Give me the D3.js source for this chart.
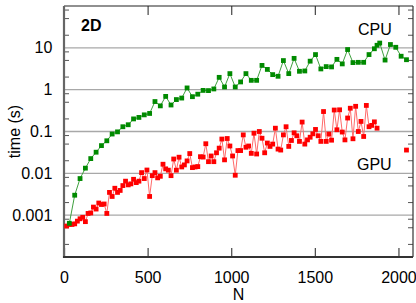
<!DOCTYPE html>
<html>
<head>
<meta charset="utf-8">
<script src="https://cdn.jsdelivr.net/npm/d3@7"></script>
<style>
  body { margin: 0; background: #fff; }
  text { font-family: "Liberation Sans", Arial, sans-serif; }
</style>
</head>
<body>
<svg id="chart" width="416" height="303"></svg>
<script>
// CPU timings (green), N step 32
var cpuN = [32,64,96,128,160,192,224,256,288,320,352,384,416,448,480,512,544,576,608,640,
  672,704,736,768,800,832,864,896,928,960,992,1024,1056,1088,1120,1152,1184,1216,1248,1280,
  1312,1344,1376,1408,1440,1472,1504,1536,1568,1600,1632,1664,1696,1728,1760,1792,1824,1856,1872,1888,
  1920,1952,1984,2016,2048];
var cpuT = [0.00064,0.0030,0.0075,0.0133,0.0225,0.032,0.046,0.060,0.087,0.098,0.13,0.145,0.20,0.217,0.25,0.27,0.52,0.41,0.69,0.43,
  0.58,0.63,1.1,0.68,0.78,0.96,0.95,1.04,1.97,1.16,2.42,1.16,1.53,2.42,1.67,1.67,3.8,3.05,2.29,2.09,
  4.96,2.42,5.6,2.75,2.8,4.8,6.9,3.13,3.56,3.5,5.3,4.13,9.1,4.44,4.5,4.5,6.9,9.5,11.5,13,
  5.1,12,10.3,6.3,5.2];

// GPU timings (red), N step 16
var gpuN = [16,32,48,64,80,96,112,128,144,160,176,192,208,224,240,256,272,288,304,320,
  336,352,368,384,400,416,432,448,464,480,496,512,528,544,560,576,592,608,624,640,
  656,672,688,704,720,736,752,768,784,800,816,832,848,864,880,896,912,928,944,960,
  976,992,1008,1024,1040,1056,1072,1088,1104,1120,1136,1152,1168,1184,1200,1216,1232,1248,1264,1280,
  1296,1312,1328,1344,1360,1376,1392,1408,1424,1440,1456,1472,1488,1504,1520,1536,1552,1568,1584,1600,
  1616,1632,1648,1664,1680,1696,1712,1728,1744,1760,1776,1792,1808,1824,1840,1856,1872,2048];
var gpuT = [0.00055,0.0006,0.0006,0.00062,0.00072,0.00082,0.00089,0.0007,0.0011,0.00113,0.00156,0.0014,0.00195,0.0018,0.00185,0.0011,0.0035,0.0028,0.0044,0.0035,
  0.0039,0.0051,0.0065,0.0053,0.0056,0.0072,0.006,0.0065,0.0104,0.0075,0.012,0.0028,0.0088,0.0104,0.0078,0.0085,0.0165,0.0128,0.0119,0.0088,
  0.022,0.0119,0.0243,0.0142,0.0159,0.0198,0.0297,0.0137,0.0142,0.0145,0.025,0.0245,0.051,0.019,0.026,0.019,0.031,0.04,0.066,0.021,
  0.068,0.045,0.026,0.009,0.035,0.035,0.083,0.042,0.045,0.03,0.091,0.029,0.1,0.069,0.031,0.053,0.044,0.05,0.12,0.038,
  0.036,0.083,0.13,0.044,0.061,0.093,0.079,0.058,0.168,0.05,0.063,0.073,0.088,0.112,0.079,0.058,0.30,0.058,0.087,0.062,
  0.326,0.11,0.33,0.097,0.063,0.21,0.36,0.067,0.40,0.1,0.174,0.076,0.42,0.13,0.14,0.17,0.12,0.036];

var xTicks = [0, 500, 1000, 1500, 2000];
var yDecades = [0.001, 0.01, 0.1, 1, 10];
var yLabels = ["0.001", "0.01", "0.1", "1", "10"];
var minorMult = [2, 5, 8];

var svg = d3.select('#chart');
var pLeft = 64, pRight = 413, pTop = 6, pBottom = 257;

var x = d3.scaleLinear().domain([0, 2087]).range([pLeft, pRight]);
var y = d3.scaleLog().domain([1e-4, 1e2]).range([pBottom, pTop]);

// gridlines
svg.append('g').selectAll('line').data(yDecades).enter().append('line')
  .attr('x1', pLeft).attr('x2', pRight)
  .attr('y1', function(d){ return y(d); }).attr('y2', function(d){ return y(d); })
  .attr('stroke', '#a8a8a8').attr('stroke-width', 1.4);

// minor ticks on both sides
var minors = [];
[1e-4, 1e-3, 1e-2, 1e-1, 1, 10].forEach(function(dec){
  minorMult.forEach(function(m){ minors.push(dec * m); });
});
var mt = svg.append('g');
minors.forEach(function(v){
  mt.append('line').attr('x1', pLeft).attr('x2', pLeft + 5)
    .attr('y1', y(v)).attr('y2', y(v)).attr('stroke', '#555').attr('stroke-width', 1);
  mt.append('line').attr('x1', pRight - 5).attr('x2', pRight)
    .attr('y1', y(v)).attr('y2', y(v)).attr('stroke', '#555').attr('stroke-width', 1);
});

// x axes (ticks inward)
var xb = svg.append('g').attr('transform', 'translate(0,' + pBottom + ')')
  .call(d3.axisBottom(x).tickValues(xTicks).tickSize(-9).tickPadding(14.5).tickFormat(d3.format('d')));
var xt = svg.append('g').attr('transform', 'translate(0,' + pTop + ')')
  .call(d3.axisTop(x).tickValues(xTicks.slice(1)).tickSize(-9).tickFormat(''));
[xb, xt].forEach(function(g){
  g.select('.domain').remove();
  g.selectAll('.tick line').attr('stroke', '#444').attr('stroke-width', 1.2);
  g.selectAll('text').attr('font-size', 16).attr('fill', '#000')
    .style('font-family', '"Liberation Sans", Arial, sans-serif');
});

// y axis labels
var yl = svg.append('g').attr('transform', 'translate(' + pLeft + ',0)')
  .call(d3.axisLeft(y).tickValues(yDecades).tickSize(0).tickPadding(11.7)
    .tickFormat(function(d, i){ return yLabels[i]; }));
yl.select('.domain').remove();
yl.selectAll('text').attr('font-size', 16).attr('fill', '#000')
  .style('font-family', '"Liberation Sans", Arial, sans-serif');

// frame
svg.append('line').attr('x1', pLeft).attr('x2', pRight).attr('y1', pTop).attr('y2', pTop)
  .attr('stroke', '#222').attr('stroke-width', 1.2);
svg.append('line').attr('x1', pRight).attr('x2', pRight).attr('y1', pTop).attr('y2', pBottom)
  .attr('stroke', '#333').attr('stroke-width', 1.2);
svg.append('line').attr('x1', pLeft).attr('x2', pLeft).attr('y1', pTop).attr('y2', pBottom + 1)
  .attr('stroke', '#666').attr('stroke-width', 2.2);
svg.append('line').attr('x1', pLeft - 1).attr('x2', pRight).attr('y1', pBottom).attr('y2', pBottom)
  .attr('stroke', '#333').attr('stroke-width', 2);

// series
function drawSeries(ns, ts, lineColor, markColor, cls){
  var pts = ns.map(function(n, i){ return {n: n, t: ts[i], prev: i > 0 ? ns[i-1] : n}; });
  var line = d3.line()
    .defined(function(d){ return d.n - d.prev < 100; })
    .x(function(d){ return x(d.n); })
    .y(function(d){ return y(d.t); });
  svg.append('path').datum(pts).attr('d', line)
    .attr('fill', 'none').attr('stroke', lineColor).attr('stroke-width', 1);
  svg.append('g').selectAll('rect.' + cls).data(pts).enter().append('rect')
    .attr('class', cls)
    .attr('x', function(d){ return x(d.n) - 2.4; })
    .attr('y', function(d){ return y(d.t) - 2.4; })
    .attr('width', 4.8).attr('height', 4.8)
    .attr('fill', markColor);
}
drawSeries(gpuN, gpuT, '#ff6a6a', '#ff0000', 'gpu');
drawSeries(cpuN, cpuT, '#3fa03f', '#008a00', 'cpu');

// labels
svg.append('text').attr('x', 81).attr('y', 31).attr('font-size', 16).attr('font-weight', 'bold').text('2D');
svg.append('text').attr('x', 358).attr('y', 35).attr('font-size', 16).text('CPU');
svg.append('text').attr('x', 357).attr('y', 170).attr('font-size', 16).text('GPU');
svg.append('text').attr('x', (pLeft + pRight) / 2).attr('y', 300).attr('text-anchor', 'middle')
  .attr('font-size', 16).text('N');
svg.append('text').attr('transform', 'translate(20,' + ((pTop + pBottom) / 2) + ') rotate(-90)')
  .attr('text-anchor', 'middle').attr('font-size', 16).text('time (s)');
</script>
</body>
</html>
